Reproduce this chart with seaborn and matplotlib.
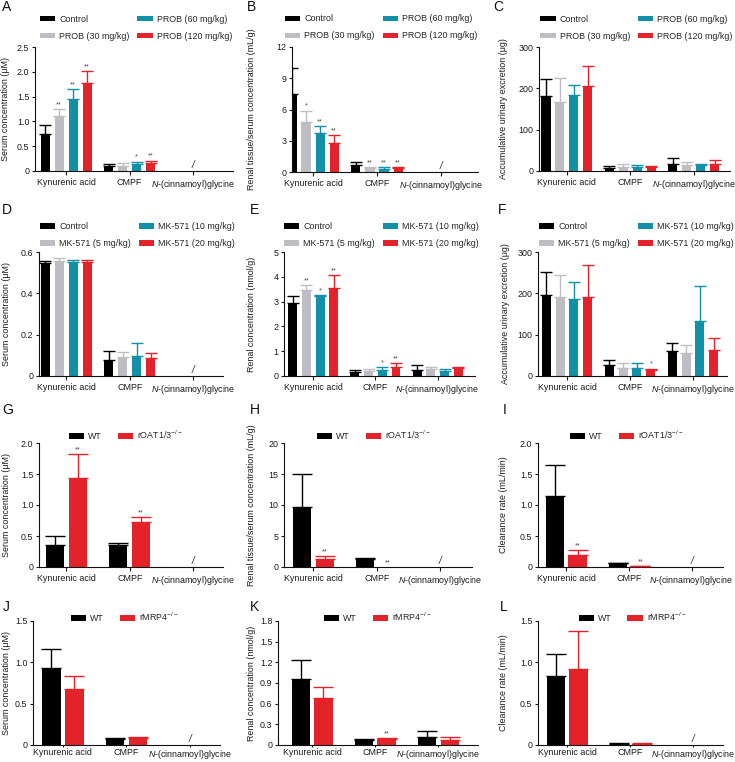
import numpy as np
import pandas as pd
import seaborn as sns
import matplotlib.pyplot as plt

nan = np.nan

# x categories (same in every panel)
compounds = ["Kynurenic acid", "CMPF", "N-(cinnamoyl)glycine"]
compound_labels = ["Kynurenic acid", "CMPF", r"$\it{N}$-(cinnamoyl)glycine"]

# groups
prob_groups = ["Control", "PROB (30 mg/kg)", "PROB (60 mg/kg)", "PROB (120 mg/kg)"]
mk_groups = ["Control", "MK-571 (5 mg/kg)", "MK-571 (10 mg/kg)", "MK-571 (20 mg/kg)"]
oat_groups = ["WT", r"rOAT1/3$^{-/-}$"]
mrp_groups = ["WT", r"rMRP4$^{-/-}$"]

colors4 = ["#000000", "#bdbdc3", "#1190a8", "#e4222a"]
colors2 = ["#000000", "#e4222a"]

# one row per group, one column per compound (mean, SD, significance)
a_mean = [[0.74, 0.11, nan], [1.11, 0.11, nan], [1.45, 0.15, nan], [1.77, 0.17, nan]]
a_sd = [[0.18, 0.04, nan], [0.14, 0.06, nan], [0.21, 0.04, nan], [0.24, 0.04, nan]]
a_sig = [["", "", ""], ["**", "", ""], ["**", "*", ""], ["**", "**", ""]]

b_mean = [[7.52, 0.70, nan], [4.80, 0.38, nan], [3.78, 0.32, nan], [2.82, 0.38, nan]]
b_sd = [[2.5, 0.30, nan], [1.1, 0.12, nan], [0.6, 0.16, nan], [0.76, 0.07, nan]]
b_sig = [["", "", ""], ["*", "**", ""], ["**", "**", ""], ["**", "**", ""]]

c_mean = [[181, 8, 18], [167, 10, 15], [185, 9, 14], [206, 9, 16]]
c_sd = [[42, 5, 13], [58, 6, 7], [23, 5, 4], [49, 2, 10]]
c_sig = [["", "", ""]] * 4

d_mean = [[0.547, 0.077, nan], [0.555, 0.090, nan], [0.550, 0.097, nan], [0.550, 0.085, nan]]
d_sd = [[0.011, 0.043, nan], [0.016, 0.026, nan], [0.010, 0.061, nan], [0.010, 0.024, nan]]
d_sig = [["", "", ""]] * 4

e_mean = [[2.96, 0.16, 0.24], [3.48, 0.20, 0.27], [3.21, 0.26, 0.19], [3.54, 0.38, 0.31]]
e_sd = [[0.27, 0.07, 0.22], [0.19, 0.10, 0.11], [0.05, 0.09, 0.09], [0.53, 0.13, 0.05]]
e_sig = [["", "", ""], ["**", "", ""], ["*", "*", ""], ["**", "**", ""]]

f_mean = [[197, 27, 61], [190, 18.5, 55], [187, 19, 132], [190, 14, 63]]
f_sd = [[54, 12, 19], [54, 13, 19], [40, 12, 86], [78, 4, 28]]
f_sig = [["", "", ""], ["", "", ""], ["", "", ""], ["", "*", ""]]

g_mean = [[0.36, 0.35, nan], [1.43, 0.72, nan]]
g_sd = [[0.14, 0.04, nan], [0.39, 0.08, nan]]
g_sig = [["", "", ""], ["**", "**", ""]]

h_mean = [[9.73, 1.24, nan], [1.24, 0.03, nan]]
h_sd = [[5.2, 0.26, nan], [0.6, 0.0, nan]]
h_sig = [["", "", ""], ["**", "**", ""]]

i_mean = [[1.15, 0.06, nan], [0.19, 0.016, nan]]
i_sd = [[0.49, 0.005, nan], [0.09, 0.004, nan]]
i_sig = [["", "", ""], ["**", "**", ""]]

j_mean = [[0.93, 0.072, nan], [0.68, 0.084, nan]]
j_sd = [[0.23, 0.012, nan], [0.15, 0.013, nan]]
j_sig = [["", "", ""]] * 2

k_mean = [[0.96, 0.068, 0.12], [0.685, 0.092, 0.068]]
k_sd = [[0.27, 0.014, 0.09], [0.16, 0.014, 0.048]]
k_sig = [["", "", ""], ["", "**", ""]]

l_mean = [[0.83, 0.016, nan], [0.92, 0.016, nan]]
l_sd = [[0.27, 0.004, nan], [0.46, 0.004, nan]]
l_sig = [["", "", ""]] * 2

serum_um = "Serum concentration (μM)"
ratio_lab = "Renal tissue/serum concentration (mL/g)"
urine_lab = "Accumulative urinary excretion (μg)"
renal_lab = "Renal concentration (nmol/g)"
clear_lab = "Clearance rate (mL/min)"

panels = [
    ("A", prob_groups, a_mean, a_sd, a_sig, [0, 0.5, 1.0, 1.5, 2.0, 2.5], ["0", "0.5", "1.0", "1.5", "2.0", "2.5"], serum_um),
    ("B", prob_groups, b_mean, b_sd, b_sig, [0, 3, 6, 9, 12], ["0", "3", "6", "9", "12"], ratio_lab),
    ("C", prob_groups, c_mean, c_sd, c_sig, [0, 100, 200, 300], ["0", "100", "200", "300"], urine_lab),
    ("D", mk_groups, d_mean, d_sd, d_sig, [0, 0.2, 0.4, 0.6], ["0", "0.2", "0.4", "0.6"], serum_um),
    ("E", mk_groups, e_mean, e_sd, e_sig, [0, 1, 2, 3, 4, 5], ["0", "1", "2", "3", "4", "5"], renal_lab),
    ("F", mk_groups, f_mean, f_sd, f_sig, [0, 100, 200, 300], ["0", "100", "200", "300"], urine_lab),
    ("G", oat_groups, g_mean, g_sd, g_sig, [0, 0.5, 1.0, 1.5, 2.0], ["0", "0.5", "1.0", "1.5", "2.0"], serum_um),
    ("H", oat_groups, h_mean, h_sd, h_sig, [0, 5, 10, 15, 20], ["0", "5", "10", "15", "20"], ratio_lab),
    ("I", oat_groups, i_mean, i_sd, i_sig, [0, 0.5, 1.0, 1.5, 2.0], ["0", "0.5", "1.0", "1.5", "2.0"], clear_lab),
    ("J", mrp_groups, j_mean, j_sd, j_sig, [0, 0.5, 1.0, 1.5], ["0", "0.5", "1.0", "1.5"], serum_um),
    ("K", mrp_groups, k_mean, k_sd, k_sig, [0, 0.3, 0.6, 0.9, 1.2, 1.5, 1.8], ["0", "0.3", "0.6", "0.9", "1.2", "1.5", "1.8"], renal_lab),
    ("L", mrp_groups, l_mean, l_sd, l_sig, [0, 0.5, 1.0, 1.5], ["0", "0.5", "1.0", "1.5"], clear_lab),
]

# layout in pixels: axes (x0, x1, top, bottom), xlim, legend centre (axes frac), ylabel centre x, letter pos
layout = {
    "A": ((35, 233, 47, 171), (-0.49, 2.63), (0.51, 1.157), 6, (2, 2)),
    "B": ((292, 478, 47, 172), (-0.33, 2.58), (0.48, 1.157), 251, (247, 2)),
    "C": ((539, 730, 47, 171), (-0.44, 2.57), (0.51, 1.157), 504, (493, 2)),
    "D": ((39, 223, 252, 376), (-0.43, 2.47), (0.535, 1.137), 7, (2, 205)),
    "E": ((284, 475, 252, 376), (-0.47, 2.60), (0.51, 1.137), 252, (250, 205)),
    "F": ((538, 727, 252, 376), (-0.46, 2.54), (0.52, 1.137), 505, (498, 205)),
    "G": ((39, 223, 443, 567), (-0.43, 2.47), (0.47, 1.065), 7, (2, 405)),
    "H": ((284, 472, 443, 567), (-0.46, 2.50), (0.476, 1.065), 251, (250, 405)),
    "I": ((538, 723, 443, 567), (-0.45, 2.50), (0.478, 1.065), 504, (503, 405)),
    "J": ((33, 220, 621, 745), (-0.47, 2.47), (0.49, 1.032), 7, (3, 602)),
    "K": ((278, 478, 621, 745), (-0.54, 2.63), (0.50, 1.032), 252, (250, 602)),
    "L": ((538, 723, 621, 745), (-0.46, 2.47), (0.51, 1.032), 504, (500, 602)),
}

sns.set_style("ticks")
plt.rcParams["font.family"] = ["Liberation Sans", "DejaVu Sans"]
plt.rcParams["mathtext.fontset"] = "custom"
plt.rcParams["mathtext.rm"] = "Liberation Sans"
plt.rcParams["mathtext.it"] = "Liberation Sans:italic"
plt.rcParams["axes.linewidth"] = 0.8
plt.rcParams["xtick.major.width"] = 0.8
plt.rcParams["ytick.major.width"] = 0.8

FS = 6.4
W, H = 735, 762
fig = plt.figure(figsize=(W / 100, H / 100), dpi=100)

for letter, groups, means, sds, sigs, yticks, ytl, ylabel in panels:
    (x0, x1, top, bot), xlim, leg_pos, ylab_x, lpos = layout[letter]
    ax = fig.add_axes([x0 / W, 1 - bot / H, (x1 - x0) / W, (bot - top) / H])
    n = len(groups)
    cols = colors4 if n == 4 else colors2
    width, gap, cap = (0.88, 0.35, 4.5) if n == 4 else (0.72, 0.2, 7)

    rows = []
    for g, mrow in zip(groups, means):
        for c, v in zip(compounds, mrow):
            rows.append({"compound": c, "group": g, "value": v})
    df = pd.DataFrame(rows)
    sns.barplot(data=df, x="compound", y="value", hue="group", order=compounds,
                hue_order=groups, palette=dict(zip(groups, cols)), errorbar=None,
                width=width, gap=gap, linewidth=0, saturation=1, ax=ax)

    # one-sided error bars and significance stars
    slot = width / n
    ytop = yticks[-1]
    for h, (g, mrow, srow, sgrow) in enumerate(zip(groups, means, sds, sigs)):
        for ci, (m, s, sg) in enumerate(zip(mrow, srow, sgrow)):
            if np.isnan(m):
                continue
            x = ci - width / 2 + slot * (h + 0.5)
            if s > 0:
                ax.errorbar(x, m, yerr=[[0], [s]], fmt="none", ecolor=cols[h],
                            elinewidth=1.0, capsize=cap, capthick=1.0, zorder=3)
            if sg:
                ax.annotate(sg, (x, m + s), xytext=(0, 0.5), textcoords="offset points",
                            ha="center", va="bottom", fontsize=5.2, color="#444444")

    # "/" for compounds not detected
    for ci in range(len(compounds)):
        if all(np.isnan(mrow[ci]) for mrow in means):
            ax.text(ci, ytop * 0.005, "/", ha="center", va="bottom", fontsize=7,
                    style="italic", color="#222222")

    bottom_row = letter in "JKL"
    ax.set_xlim(*xlim)
    ax.set_ylim(0, ytop)
    ax.set_yticks(yticks)
    ax.set_yticklabels(ytl)
    ax.set_xticks(range(len(compounds)))
    ax.set_xticklabels(compound_labels)
    ax.tick_params(axis="y", labelsize=FS, length=2.5, pad=1.5, colors="#1a1a1a")
    ax.tick_params(axis="x", labelsize=FS, length=1.5 if bottom_row else 3,
                   pad=1 if bottom_row else 2, colors="#1a1a1a")
    ax.set_xlabel("")
    ax.set_ylabel(ylabel, fontsize=FS, color="#1a1a1a")
    ax.yaxis.set_label_coords((ylab_x + 4.5 - x0) / (x1 - x0), 0.5)
    sns.despine(ax=ax)
    for sp in ax.spines.values():
        sp.set_color("#111111")

    handles, labels = ax.get_legend_handles_labels()
    ax.legend(handles, labels, ncol=2, loc="center", bbox_to_anchor=leg_pos,
              frameon=False, fontsize=FS, handlelength=1.7, handleheight=0.55,
              handletextpad=0.45, columnspacing=0.9 if n == 4 else 1.8,
              labelspacing=0.9, borderpad=0)

    fig.text(lpos[0] / W, 1 - (lpos[1] - 2) / H, letter, fontsize=10,
             ha="left", va="top", color="#111111")

fig.savefig("out.png", dpi=100)
